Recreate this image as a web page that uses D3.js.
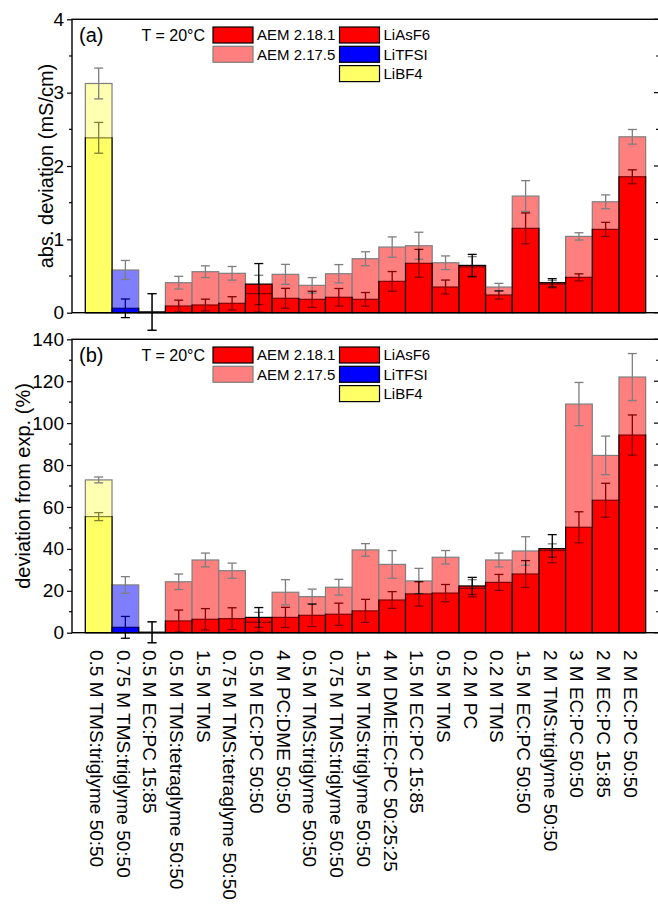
<!DOCTYPE html>
<html>
<head>
<meta charset="utf-8">
<script src="https://cdn.jsdelivr.net/npm/d3@7"></script>
<style>
  body { margin: 0; background: #fff; }
  text { font-family: "Liberation Sans", Arial, sans-serif; fill: #000; }
</style>
</head>
<body>
<div id="chart"></div>
<script>
// categories (electrolytes), left to right
const categories = [
  "0.5 M TMS:triglyme 50:50", "0.75 M TMS:triglyme 50:50", "0.5 M EC:PC 15:85",
  "0.5 M TMS:tetraglyme 50:50", "1.5 M TMS", "0.75 M TMS:tetraglyme 50:50",
  "0.5 M EC:PC 50:50", "4 M PC:DME 50:50", "0.5 M TMS:triglyme 50:50",
  "0.75 M TMS:triglyme 50:50", "1.5 M TMS:triglyme 50:50", "4 M DME:EC:PC 50:25:25",
  "1.5 M EC:PC 15:85", "0.5 M TMS", "0.2 M PC", "0.2 M TMS", "1.5 M EC:PC 50:50",
  "2 M TMS:triglyme 50:50", "3 M EC:PC 50:50", "2 M EC:PC 15:85", "2 M EC:PC 50:50"
];
const salts = [ "LiBF4", "LiTFSI" ].concat( d3.range( 19 ).map( () => "LiAsF6" ) );

// (a) absolute deviation, mS/cm
const absAEM1 = [ 2.384, 0.06, 0.01, 0.091, 0.105, 0.128, 0.39, 0.196, 0.182, 0.21, 0.182,
  0.427, 0.673, 0.35, 0.645, 0.241, 1.15, 0.409, 0.482, 1.136, 1.853 ];
const absAEM1Err = [ 0.21, 0.127, 0.25, 0.08, 0.08, 0.09, 0.28, 0.136, 0.11, 0.12, 0.093,
  0.134, 0.19, 0.095, 0.15, 0.055, 0.21, 0.055, 0.048, 0.096, 0.095 ];
const absAEM2 = [ 3.125, 0.582, 0.01, 0.409, 0.559, 0.537, 0.26, 0.523, 0.373, 0.531, 0.736,
  0.895, 0.913, 0.681, 0.625, 0.35, 1.59, 0.39, 1.04, 1.512, 2.398 ];
const absAEM2Err = [ 0.21, 0.13, 0.25, 0.087, 0.08, 0.093, 0.25, 0.136, 0.106, 0.125, 0.095,
  0.138, 0.184, 0.093, 0.14, 0.05, 0.21, 0.05, 0.05, 0.094, 0.1 ];

// (b) relative deviation, %
const relAEM1 = [ 55.4, 2.56, 0.2, 5.6, 6.4, 6.7, 7.3, 7.3, 8.3, 8.8, 10.4,
  15.6, 18.5, 18.9, 22.3, 24.0, 28.0, 40.1, 50.3, 63.2, 94.3 ];
const relAEM1Err = [ 1.9, 5.2, 5, 5.2, 5.1, 5.2, 4.7, 4.8, 5.4, 5.3, 5.5,
  4.0, 5.8, 4.1, 4.1, 3.8, 6.4, 6.7, 7.4, 8.1, 9.6 ];
const relAEM2 = [ 72.9, 22.8, 0.2, 24.3, 34.7, 29.6, 5.0, 19.3, 17.2, 21.7, 39.5,
  32.6, 24.7, 36.0, 21.2, 34.7, 39.0, 39.2, 109.1, 84.6, 122.0 ];
const relAEM2Err = [ 1.4, 3.96, 5, 3.7, 3.3, 3.6, 4.7, 6.0, 3.6, 3.75, 3.0,
  6.6, 6.0, 3.2, 4.1, 3.3, 6.8, 3.2, 10.3, 9.2, 11.2 ];

const ticksA = [ 0, 1, 2, 3, 4 ];
const ticksB = [ 0, 20, 40, 60, 80, 100, 120, 140 ];

const saltColor = { LiAsF6: "#ff0000", LiTFSI: "#0000ff", LiBF4: "#ffff66" };

const svgWidth = 658, svgHeight = 906;
const svg = d3.select( "#chart" ).append( "svg" )
  .attr( "width", svgWidth )
  .attr( "height", svgHeight );

const plotLeft = 72, plotRight = 659;
const xScale = d3.scaleLinear().domain( [ 0, 22 ] ).range( [ plotLeft, plotRight ] );
const barW = xScale( 1 ) - xScale( 0 );

function drawPanel ( top, bottom, domain, ticks, minorStep, aem1, aem1Err, aem2, aem2Err, tag, yTitle, titleX ) {
  const yScale = d3.scaleLinear().domain( domain ).range( [ bottom, top ] );
  const g = svg.append( "g" );

  // series drawn as overlapping bars; AEM 2.17.5 on top, half transparent
  const series = [
    { vals: aem1, errs: aem1Err, opacity: 1 },
    { vals: aem2, errs: aem2Err, opacity: 0.5 }
  ];
  series.forEach( s => {
    const sg = g.append( "g" ).attr( "opacity", s.opacity );
    sg.selectAll( "rect" )
      .data( s.vals )
      .enter().append( "rect" )
      .attr( "x", ( d, i ) => xScale( i + 0.5 ) )
      .attr( "y", d => yScale( d ) )
      .attr( "width", barW )
      .attr( "height", d => yScale( 0 ) - yScale( d ) )
      .attr( "fill", ( d, i ) => saltColor[ salts[ i ] ] )
      .attr( "stroke", "#000" )
      .attr( "stroke-width", 1.2 );

    const eg = sg.selectAll( "g.err" )
      .data( s.vals.map( ( v, i ) => ( { v, e: s.errs[ i ], i } ) ) )
      .enter().append( "g" )
      .attr( "stroke", "#000" )
      .attr( "stroke-width", 1.3 );
    eg.append( "line" )
      .attr( "x1", d => xScale( d.i + 1 ) ).attr( "x2", d => xScale( d.i + 1 ) )
      .attr( "y1", d => yScale( d.v + d.e ) ).attr( "y2", d => yScale( d.v - d.e ) );
    [ 1, -1 ].forEach( sign => {
      eg.append( "line" )
        .attr( "x1", d => xScale( d.i + 1 ) - 4.5 ).attr( "x2", d => xScale( d.i + 1 ) + 4.5 )
        .attr( "y1", d => yScale( d.v + sign * d.e ) ).attr( "y2", d => yScale( d.v + sign * d.e ) );
    } );
  } );

  // frame + axes
  const minor = d3.range( domain[ 0 ], domain[ 1 ] + 1e-9, minorStep ).filter( v => !ticks.includes( v ) );
  const leftAxis = g.append( "g" )
    .attr( "transform", `translate(${plotLeft},0)` )
    .call( d3.axisLeft( yScale ).tickValues( ticks ).tickFormat( d3.format( "d" ) ).tickSize( 5 ).tickPadding( 3 ) );
  leftAxis.selectAll( "text" ).style( "font-size", "19px" ).style( "font-family", "Liberation Sans, Arial, sans-serif" );
  leftAxis.select( ".domain" ).remove();
  leftAxis.selectAll( "line" ).attr( "stroke-width", 1.2 );
  g.selectAll( "line.minorL" )
    .data( minor ).enter().append( "line" )
    .attr( "x1", plotLeft - 3 ).attr( "x2", plotLeft )
    .attr( "y1", d => yScale( d ) ).attr( "y2", d => yScale( d ) )
    .attr( "stroke", "#000" ).attr( "stroke-width", 1.2 );
  // right side: inward ticks only
  g.selectAll( "line.tickR" )
    .data( ticks.concat( minor ) ).enter().append( "line" )
    .attr( "x1", d => plotRight - ( ticks.includes( d ) ? 5 : 3 ) ).attr( "x2", plotRight )
    .attr( "y1", d => yScale( d ) ).attr( "y2", d => yScale( d ) )
    .attr( "stroke", "#000" ).attr( "stroke-width", 1.2 );

  g.append( "rect" )
    .attr( "x", plotLeft ).attr( "y", top )
    .attr( "width", plotRight - plotLeft ).attr( "height", bottom - top )
    .attr( "fill", "none" ).attr( "stroke", "#000" ).attr( "stroke-width", 1.4 );

  // y title
  g.append( "text" )
    .attr( "transform", `translate(${titleX}, ${( top + bottom ) / 2}) rotate(-90)` )
    .attr( "text-anchor", "middle" )
    .attr( "dy", "0.35em" )
    .style( "font-size", "20px" )
    .text( yTitle );

  // panel tag
  g.append( "text" )
    .attr( "x", 79 ).attr( "y", top + 23 )
    .style( "font-size", "20px" )
    .text( tag );

  drawLegend( g, top );
  return g;
}

function drawLegend ( g, top ) {
  const rowH = 19.3, swW = 40, swH = 16;
  const rowY = r => top + 7.7 + r * rowH;
  g.append( "text" )
    .attr( "x", 205 ).attr( "y", rowY( 0 ) + swH / 2 )
    .attr( "text-anchor", "end" ).attr( "dy", "0.35em" )
    .style( "font-size", "16px" )
    .text( "T = 20°C" );

  const items = [
    { col: 0, row: 0, label: "AEM 2.18.1", color: saltColor.LiAsF6, opacity: 1 },
    { col: 0, row: 1, label: "AEM 2.17.5", color: saltColor.LiAsF6, opacity: 0.5 },
    { col: 1, row: 0, label: "LiAsF6", color: saltColor.LiAsF6, opacity: 1 },
    { col: 1, row: 1, label: "LiTFSI", color: saltColor.LiTFSI, opacity: 1 },
    { col: 1, row: 2, label: "LiBF4", color: saltColor.LiBF4, opacity: 1 }
  ];
  const colX = [ 213, 339.5 ];
  items.forEach( it => {
    g.append( "rect" )
      .attr( "x", colX[ it.col ] ).attr( "y", rowY( it.row ) )
      .attr( "width", swW ).attr( "height", swH )
      .attr( "fill", it.color ).attr( "stroke", "#000" ).attr( "stroke-width", 1.2 )
      .attr( "opacity", it.opacity );
    g.append( "text" )
      .attr( "x", colX[ it.col ] + swW + 4 ).attr( "y", rowY( it.row ) + swH / 2 )
      .attr( "dy", "0.35em" )
      .style( "font-size", "15px" )
      .text( it.label );
  } );
}

drawPanel( 19.3, 312.7, [ 0, 4 ], ticksA, 0.5, absAEM1, absAEM1Err, absAEM2, absAEM2Err,
  "(a)", "abs. deviation (mS/cm)", 46 );
drawPanel( 339.3, 632.7, [ 0, 140 ], ticksB, 10, relAEM1, relAEM1Err, relAEM2, relAEM2Err,
  "(b)", "deviation from exp. (%)", 22.5 );

// category labels, rotated, under panel (b)
svg.append( "g" ).selectAll( "text" )
  .data( categories ).enter().append( "text" )
  .attr( "transform", ( d, i ) => `translate(${xScale( i + 1 ) - 2}, 650) rotate(90)` )
  .attr( "dy", "0.35em" )
  .style( "font-size", "19px" )
  .text( d => d );
</script>
</body>
</html>
